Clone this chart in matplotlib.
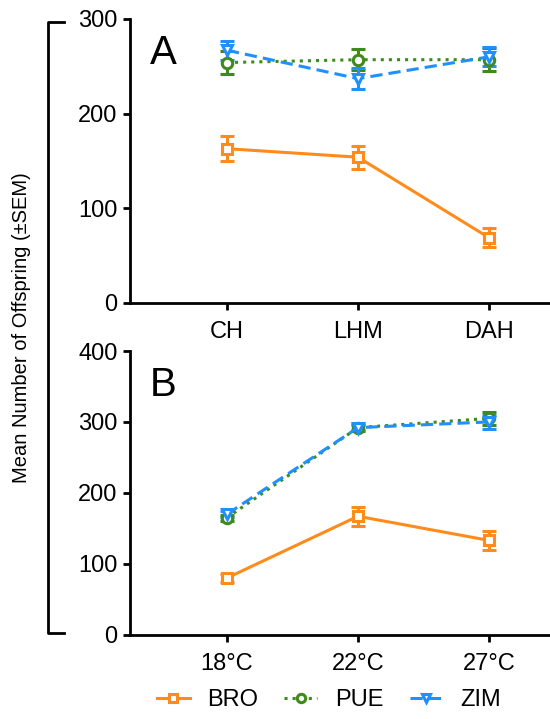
import matplotlib
matplotlib.use('Agg')
import matplotlib.pyplot as plt
from matplotlib.lines import Line2D
from matplotlib import font_manager
import numpy as np

# panel A: habitat treatments
treat_a = ['CH', 'LHM', 'DAH']
bro_a = [163, 154, 69]
bro_a_sem = [13, 12, 10]
pue_a = [254, 257, 257]
pue_a_sem = [12, 11, 12]
zim_a = [267, 237, 260]
zim_a_sem = [10, 11, 10]

# panel B: temperatures
treat_b = ['18°C', '22°C', '27°C']
bro_b = [80, 167, 133]
bro_b_sem = [6, 13, 13]
pue_b = [165, 292, 305]
pue_b_sem = [4, 5, 9]
zim_b = [170, 292, 300]
zim_b_sem = [4, 4, 10]

names = [f.name for f in font_manager.fontManager.ttflist]
narrow = 'Liberation Sans Narrow' if 'Liberation Sans Narrow' in names else 'Liberation Sans'
plt.rcParams['font.family'] = ['Liberation Sans', 'DejaVu Sans']

c_bro = '#FF8C1A'
c_pue = '#3F8A1C'
c_zim = '#1E90FF'

styles = [
    ('BRO', c_bro, '-', 's'),
    ('PUE', c_pue, ':', 'o'),
    ('ZIM', c_zim, (0, (4, 2)), 'v'),
]

fig = plt.figure(figsize=(5.5, 7.19), dpi=100)
axA = fig.add_axes([0.2364, 0.5786, 0.7636, 0.395])
axB = fig.add_axes([0.2364, 0.1172, 0.7636, 0.3946])


def draw(ax, labels, series, ymax, letter):
    x = np.arange(len(labels))
    for (name, col, ls, mk), (vals, sem) in zip(styles, series):
        ax.errorbar(x, vals, yerr=sem, color=col, ls=ls, lw=2.2,
                    marker=mk, ms=7.5, mfc='white', mec=col, mew=2.2,
                    capsize=5, capthick=2.2, elinewidth=2.2, label=name)
    ax.set_xlim(-0.74, 2.466)
    ax.set_ylim(0, ymax)
    ax.set_yticks(np.arange(0, ymax + 1, 100))
    ax.set_xticks(x)
    ax.set_xticklabels(labels)
    for s in ['top', 'right']:
        ax.spines[s].set_visible(False)
    for s in ['left', 'bottom']:
        ax.spines[s].set_linewidth(2)
    ax.tick_params(width=2, length=5, labelsize=17, pad=4)
    ax.tick_params(axis='x', pad=8)
    ax.text(0.079, 0.88, letter, transform=ax.transAxes, fontsize=29,
            ha='center', va='center')


draw(axA, treat_a, [(bro_a, bro_a_sem), (pue_a, pue_a_sem), (zim_a, zim_a_sem)], 300, 'A')
draw(axB, treat_b, [(bro_b, bro_b_sem), (pue_b, pue_b_sem), (zim_b, zim_b_sem)], 400, 'B')

# shared bracket + y label
x0, x1 = 48 / 550, 64 / 550
y0, y1 = 1 - 633 / 719, 1 - 22 / 719
fig.add_artist(Line2D([x1, x0, x0, x1], [y1, y1, y0, y0], color='black', lw=2))
fig.text(22 / 550, (y0 + y1) / 2, 'Mean Number of Offspring (±SEM)', rotation=90,
         ha='center', va='center', fontsize=14.5, family=narrow)

hs = [Line2D([], [], color=col, ls=ls, lw=2.2, marker=mk, ms=6, mfc='white',
             mec=col, mew=2.2) for (name, col, ls, mk) in styles]
fig.legend(handles=hs, labels=[s[0] for s in styles], loc='center',
           bbox_to_anchor=(0.598, 1 - 700 / 719), ncol=3, frameon=False,
           fontsize=17, handlelength=1.4, columnspacing=1.1, handletextpad=0.75)

plt.savefig('out.png', dpi=100)
